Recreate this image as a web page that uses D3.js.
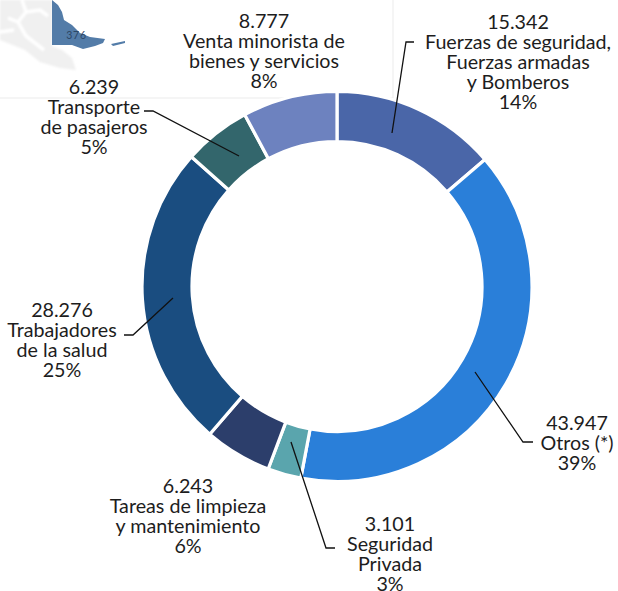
<!DOCTYPE html>
<html><head><meta charset="utf-8">
<script src="https://cdn.jsdelivr.net/npm/d3@7"></script>
<style>html,body{margin:0;padding:0;background:#fff}svg{display:block}text{font-family:"Lato",sans-serif;font-size:19.7px;fill:#1d1d1d}</style>
</head><body><div id="c"></div>
<script>
const categories=["Fuerzas de seguridad, Fuerzas armadas y Bomberos","Otros (*)","Seguridad Privada","Tareas de limpieza y mantenimiento","Trabajadores de la salud","Transporte de pasajeros","Venta minorista de bienes y servicios"];
const values=[15342,43947,3101,6243,28276,6239,8777];
const valueLabels=["15.342","43.947","3.101","6.243","28.276","6.239","8.777"];
const percentLabels=["14%","39%","3%","6%","25%","5%","8%"];
const colors=["#4a66a8","#2a7fd9","#5aa5ad","#2c3e6b","#1a4d80","#33666c","#6d82bf"];
const labelLines=[["Fuerzas de seguridad,","Fuerzas armadas","y Bomberos"],["Otros (*)"],["Seguridad","Privada"],["Tareas de limpieza","y mantenimiento"],["Trabajadores","de la salud"],["Transporte","de pasajeros"],["Venta minorista de","bienes y servicios"]];
const labelPos=[[518,29],[577,430],[390,531],[188,493],[62,317],[94,94],[264,28]];
const leaders=[[[392,133],[406,42],[414,42]],[[475,372],[523,442],[533,442]],[[291,442],[326,548],[335,548]],[[0,0]],[[173,298],[133,335],[124,335]],[[239,156],[153,111],[144,111]],[[0,0]]];
const W=618,H=591,cx=337,cy=286.5,R=195,r=145;
const svg=d3.select("#c").append("svg").attr("width",W).attr("height",H);
// faded map background
const defs=svg.append("defs");
defs.append("filter").attr("id","soft").append("feGaussianBlur").attr("stdDeviation",1.2);
defs.append("filter").attr("id","soft2").append("feGaussianBlur").attr("stdDeviation",0.4);
const bg=svg.append("g");
const land=bg.append("g").attr("filter","url(#soft)");
land.append("path").attr("d","M0,0H52V46L62,50L72,58L76,70L60,68L40,62L25,50L0,40Z").attr("fill","#f0f0f0");
land.append("path").attr("d","M22,0L26,12L18,22L8,18M26,12L40,10L48,16M18,22L26,36L44,50M0,32L14,30").attr("fill","none").attr("stroke","#fff").attr("stroke-width",3.5);
const blue=bg.append("g").attr("filter","url(#soft2)");
blue.append("path").attr("d","M52,0L58,5L62,12L64,20L72,25L80,33L90,37L105,39L103,43L95,46L83,49L72,45L52,45Z").attr("fill","#527ba8");
blue.append("path").attr("d","M111,44L125,41L125,43L113,46Z").attr("fill","#527ba8");
bg.append("text").attr("x",76.5).attr("y",39).attr("text-anchor","middle").style("font-size","10.5px").style("letter-spacing","0.8px").style("fill","#2d4766").text("376");
bg.append("path").attr("d","M0,98H393V0").attr("fill","none").attr("stroke","#f2f2f2").attr("stroke-width",1.5);
const pie=d3.pie().sort(null).value(d=>d)(values);
const arc=d3.arc().innerRadius(r).outerRadius(R);
svg.append("g").attr("transform",`translate(${cx},${cy})`).selectAll("path").data(pie).join("path")
 .attr("d",arc).attr("fill",(d,i)=>colors[i]).attr("stroke","#fff").attr("stroke-width",3.2);
const line=d3.line();
svg.append("g").selectAll("path").data(leaders.filter(l=>l.length>1)).join("path")
 .attr("d",line).attr("fill","none").attr("stroke","#111").attr("stroke-width",1.3);
categories.forEach((c,i)=>{
 const t=svg.append("text").attr("text-anchor","middle");
 [valueLabels[i],...labelLines[i],percentLabels[i]].forEach((s,k)=>{
  t.append("tspan").attr("x",labelPos[i][0]).attr("y",labelPos[i][1]+k*20).text(s);
 });
});
</script></body></html>
